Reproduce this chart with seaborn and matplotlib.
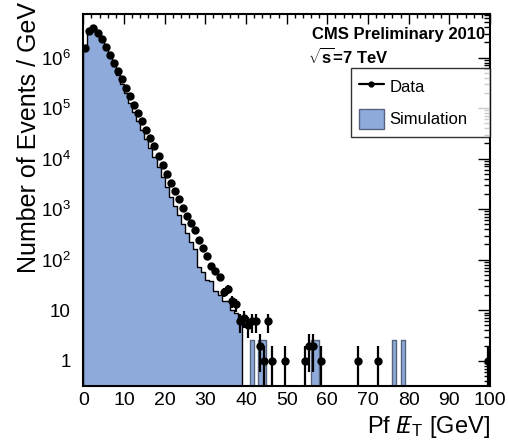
import numpy as np
import pandas as pd
import matplotlib
matplotlib.use("Agg")
import matplotlib.pyplot as plt
import seaborn as sns
from matplotlib.lines import Line2D
from matplotlib.patches import Patch
from matplotlib.ticker import FixedLocator, FixedFormatter, MultipleLocator, NullFormatter

# ---- binning: 1 GeV bins from 0 to 100 GeV ----
bin_edges = list(range(0, 101))

# ---- observed events per GeV (bins 0..46 contiguous, sparse tail after) ----
data_core = [1.55e6, 3.4e6, 3.9e6, 3.1e6, 2.3e6, 1.65e6, 1.15e6, 7.9e5, 5.5e5, 3.7e5,
             2.5e5, 1.7e5, 1.17e5, 8.0e4, 5.5e4, 3.7e4, 2.6e4, 1.74e4, 1.13e4, 7.5e3,
             4.9e3, 3.35e3, 2.25e3, 1.56e3, 1.07e3, 725, 525, 380, 243, 170,
             120, 76, 60, 46, 23, 26, 15, 13, 6, 7,
             5, 6, 6, 2, 1, 6, 1]
data_tail_bins = [49, 54, 55, 56, 58, 67, 72, 99]
data_tail_counts = [1, 1, 2, 2, 1, 1, 1, 1]

# ---- simulation, events per GeV ----
sim_core = [1.5e6, 3.3e6, 3.8e6, 3.0e6, 2.15e6, 1.5e6, 1.02e6, 6.8e5, 4.6e5, 3.0e5,
            1.95e5, 1.28e5, 8.5e4, 5.6e4, 3.7e4, 2.4e4, 1.64e4, 1.06e4, 6.7e3, 4.3e3,
            2.7e3, 1.78e3, 1.15e3, 770, 510, 330, 225, 160, 72, 58,
            40, 38, 24, 20, 15, 15, 10, 9, 6]
sim_tail_bins = [41, 43, 44, 56, 57, 76, 78]
sim_tail_values = [2.6, 2.6, 2.6, 2.6, 2.6, 2.6, 2.6]

x_ticks = [0, 10, 20, 30, 40, 50, 60, 70, 80, 90, 100]
y_ticks = [1, 10, 1e2, 1e3, 1e4, 1e5, 1e6]
y_tick_labels = ["1", "10", r"$10^{2}$", r"$10^{3}$", r"$10^{4}$", r"$10^{5}$", r"$10^{6}$"]

# ---- assemble per-bin arrays ----
edges = np.asarray(bin_edges, dtype=float)
n_bins = len(edges) - 1
centers = 0.5 * (edges[:-1] + edges[1:])
data = np.zeros(n_bins)
data[:len(data_core)] = data_core
data[data_tail_bins] = data_tail_counts
sim_main = np.zeros(n_bins)
sim_main[:len(sim_core)] = sim_core
sim_extra = np.zeros(n_bins)
sim_extra[sim_tail_bins] = sim_tail_values

sim_df = pd.DataFrame({"met": centers, "main": sim_main, "extra": sim_extra})

sns.set_style("white")
plt.rcParams["font.family"] = ["Liberation Sans", "DejaVu Sans"]
plt.rcParams["mathtext.fontset"] = "custom"
plt.rcParams["mathtext.rm"] = "Liberation Sans"
plt.rcParams["mathtext.it"] = "Liberation Sans:italic"
plt.rcParams["mathtext.bf"] = "Liberation Sans:bold"
for key in ["text.color", "axes.labelcolor", "xtick.color", "ytick.color"]:
    plt.rcParams[key] = "black"

fill_color = "#8eaadb"

fig = plt.figure(figsize=(5.08, 4.40), dpi=100)
ax = fig.add_axes([0.164, 0.1227, 0.8006, 0.8455])

sns.histplot(data=sim_df, x="met", weights="main", bins=bin_edges, element="step",
             fill=True, color=fill_color, edgecolor="black", linewidth=1.0, alpha=1.0, ax=ax)
sns.histplot(data=sim_df, x="met", weights="extra", bins=bin_edges, element="step",
             fill=True, color=fill_color, edgecolor="#56637d", linewidth=1.0, alpha=1.0, ax=ax)
ax.set_yscale("log")

mask = data > 0
yv = data[mask]
err = np.sqrt(yv)
lo = np.minimum(err, yv - 1e-3)
ax.errorbar(centers[mask], yv, yerr=[lo, err], fmt="o", color="black", ms=5.0,
            elinewidth=1.6, capsize=0, zorder=5)

ax.set_xlim(0, 100)
ax.set_ylim(0.316, 7.3e6)

ax.xaxis.set_major_locator(FixedLocator(x_ticks))
ax.xaxis.set_minor_locator(MultipleLocator(2))
ax.yaxis.set_major_locator(FixedLocator(y_ticks))
ax.yaxis.set_major_formatter(FixedFormatter(y_tick_labels))
minor_y = [m * 10.0 ** e for e in range(-1, 7) for m in range(2, 10)]
ax.yaxis.set_minor_locator(FixedLocator(minor_y))
ax.yaxis.set_minor_formatter(NullFormatter())

ax.tick_params(which="both", direction="in", top=True, right=True, width=1.0, colors="black")
ax.tick_params(axis="x", which="major", length=7, pad=4, labelsize=14)
ax.tick_params(axis="x", which="minor", length=3)
ax.tick_params(axis="y", which="major", length=9, pad=9, labelsize=13.5)
ax.tick_params(axis="y", which="minor", length=4.5)
for s in ax.spines.values():
    s.set_linewidth(1.5)
    s.set_color("black")

ax.set_ylabel("Number of Events / GeV", fontsize=18, loc="top")
ax.yaxis.set_label_coords(-0.104, 1.032)
ax.set_xlabel(r"Pf $E\!\!\!/\,_{\mathrm{T}}$ [GeV]", fontsize=17, loc="right")
ax.xaxis.set_label_coords(1.0, -0.075)

ax.text(0.988, 0.944, "CMS Preliminary 2010", transform=ax.transAxes, ha="right",
        va="center", fontsize=12, fontweight="bold")
ax.text(0.552, 0.885, r"$\sqrt{\mathbf{s}}$=7 TeV", transform=ax.transAxes, ha="left",
        va="center", fontsize=12, fontweight="bold")

handles = [Line2D([0], [0], color="black", marker="o", ms=3.5, lw=1.6),
           Patch(facecolor=fill_color, edgecolor="#56637d", linewidth=1.0)]
leg = ax.legend(handles, ["Data", "Simulation"], loc="upper left",
                bbox_to_anchor=(0.657, 0.67, 0.343, 0.184), mode="expand",
                fontsize=12, frameon=True, fancybox=False, shadow=False,
                handlelength=1.5, handleheight=1.45, handletextpad=0.35,
                labelspacing=0.75, borderpad=0.5, borderaxespad=0)
leg.get_frame().set_edgecolor("black")
leg.get_frame().set_linewidth(1.0)

fig.savefig("out.png", dpi=100)
